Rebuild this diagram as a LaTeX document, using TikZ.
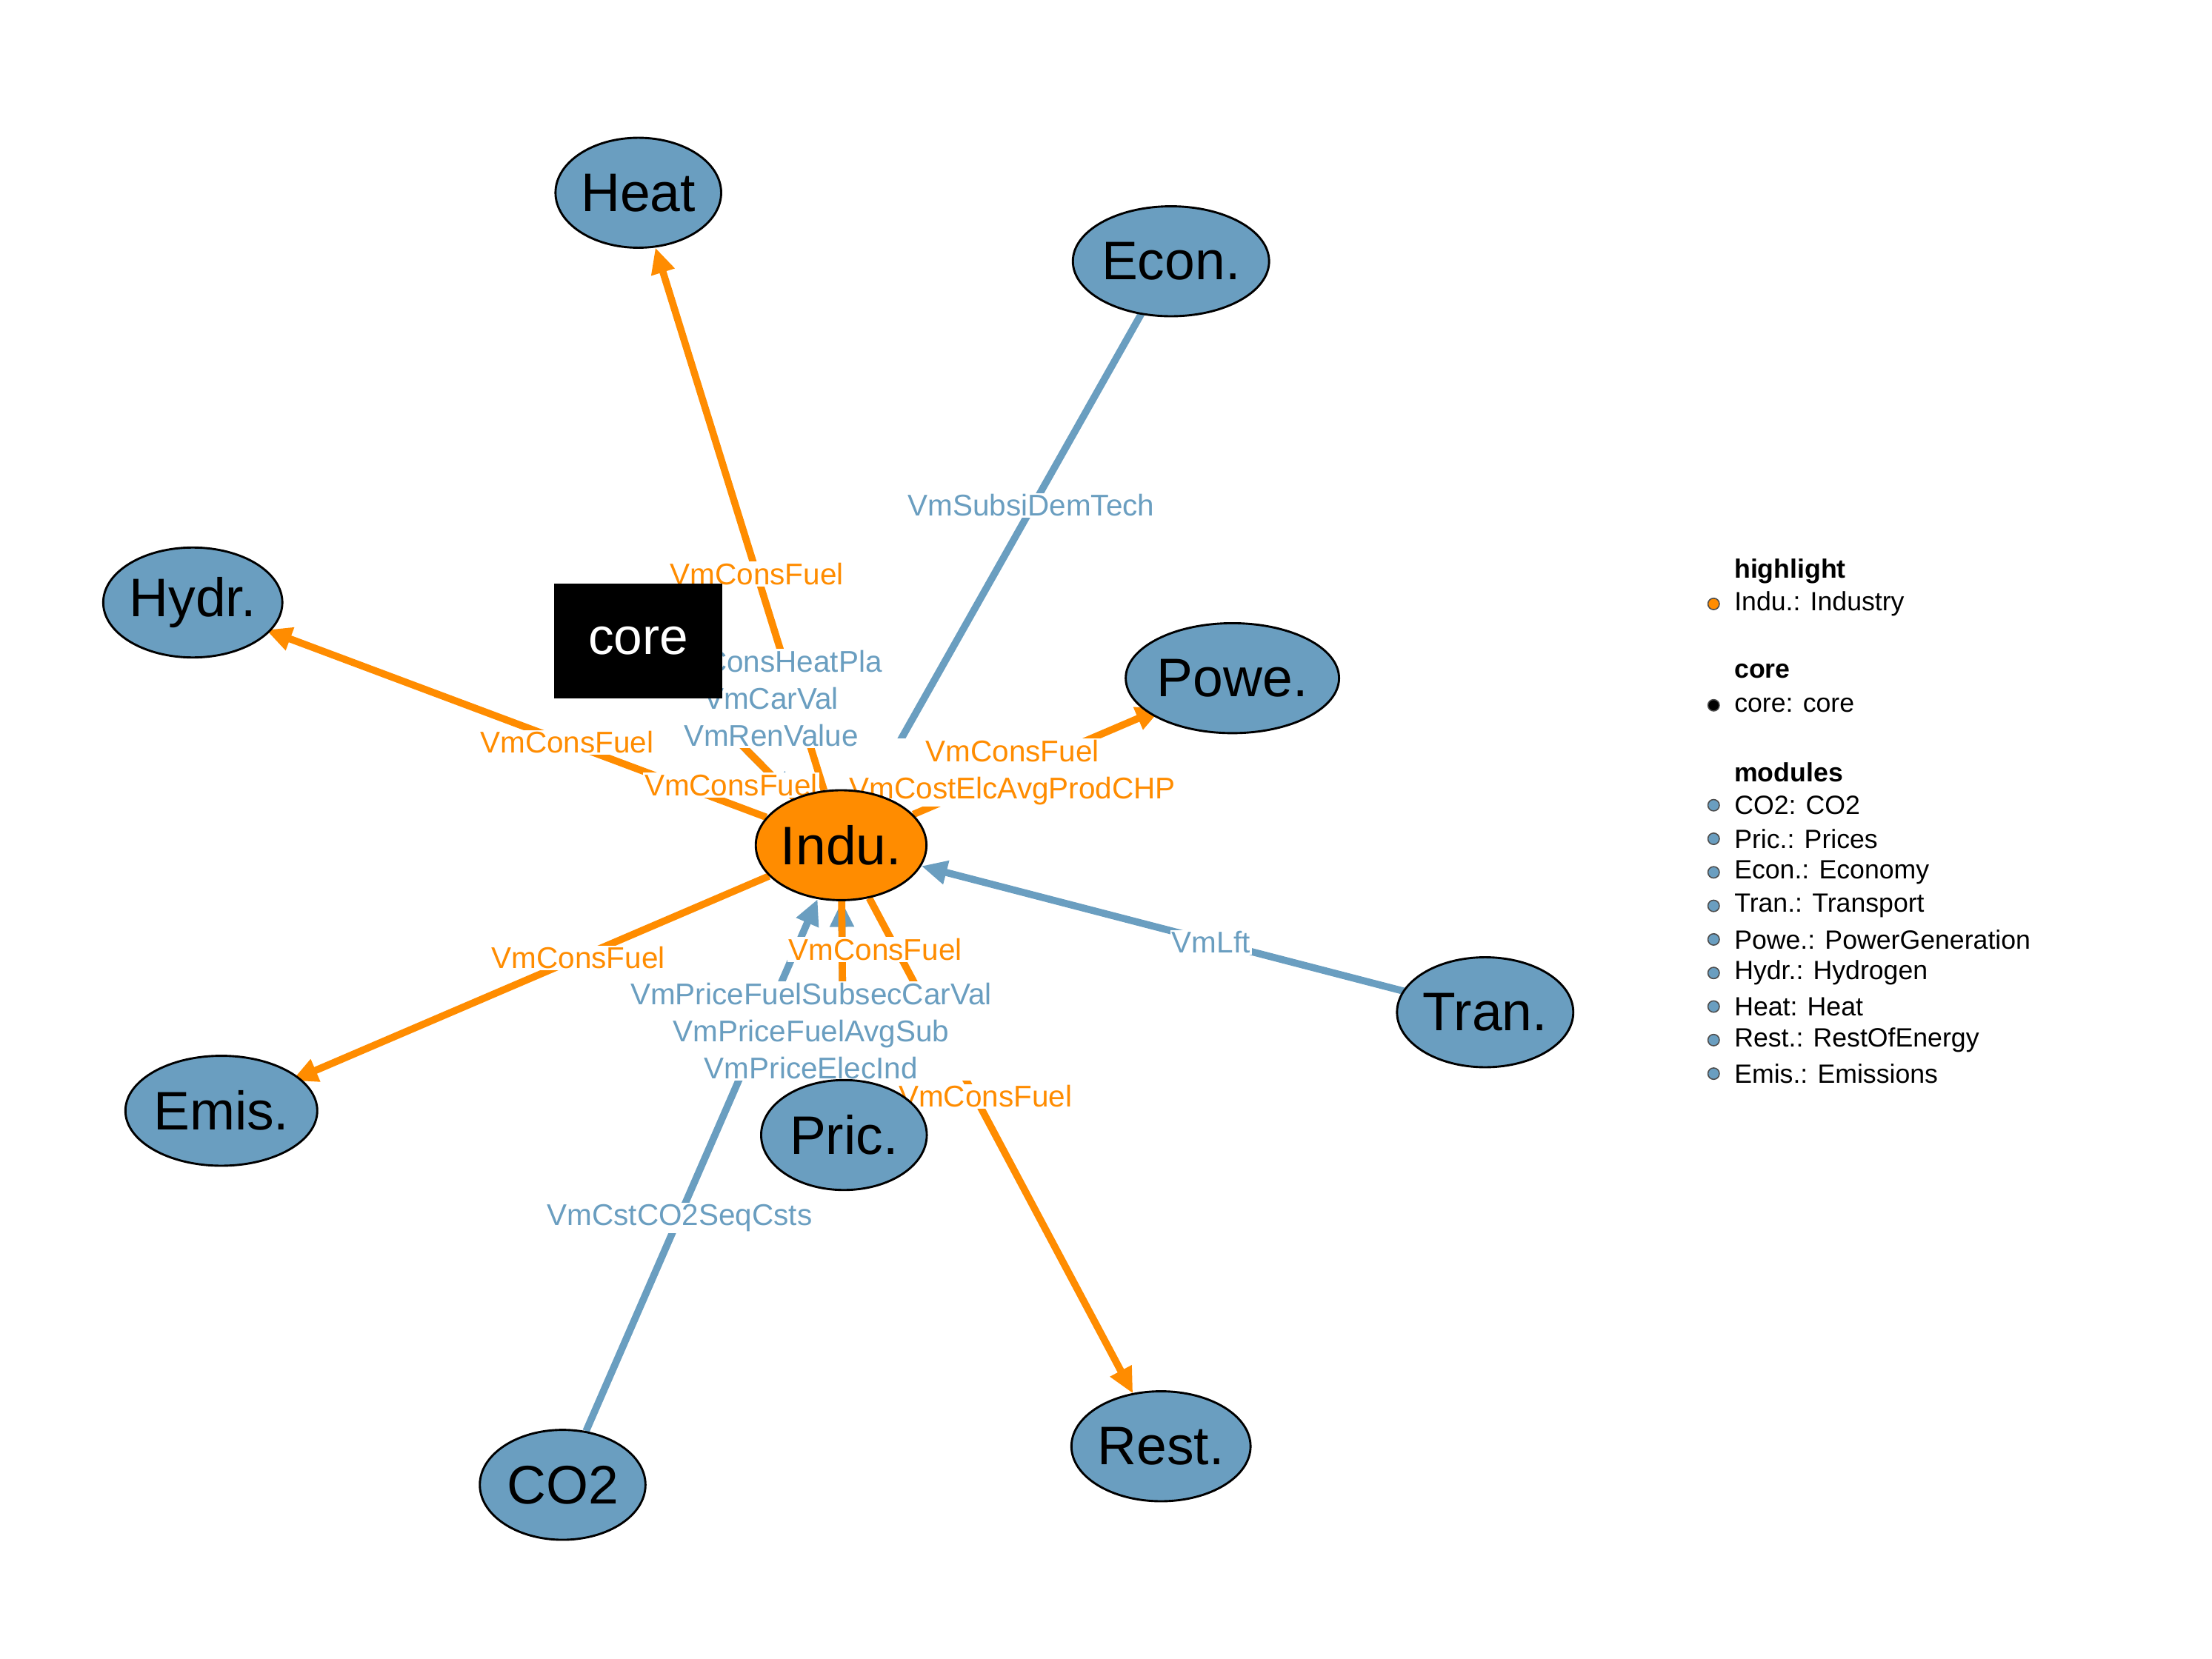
\documentclass[tikz,border=0pt]{standalone}
\usepackage{fontspec}
\setmainfont{Liberation Sans}
\usetikzlibrary{shapes.geometric,arrows.meta}
\definecolor{org}{RGB}{255,140,0}
\definecolor{blu}{RGB}{106,158,192}
\begin{document}
\begin{tikzpicture}[x=1pt,y=-1pt,
 mod/.style={ellipse,draw,line width=1.5pt,fill=blu,minimum width=116pt,minimum height=77pt,inner sep=0pt,font=\fontsize{38}{38}\selectfont},
 hl/.style={mod,fill=org},
 oe/.style={draw=org,line width=5pt,-{Triangle[length=18pt,width=16pt]}},
 be/.style={draw=blu,line width=5pt,-{Triangle[length=18pt,width=16pt]}},
 ol/.style={fill=white,text=org,inner sep=1pt,align=center,font=\fontsize{21}{26}\selectfont},
 bl/.style={fill=white,text=blu,inner sep=1pt,align=center,font=\fontsize{21}{26}\selectfont},
 lg/.style={anchor=west,font=\fontsize{18.5}{20}\selectfont},
 dot/.style={circle,draw=black!70,line width=0.8pt,inner sep=0pt,minimum size=8pt}]
\useasboundingbox (0,0) rectangle (1549,1162);
% node positions
\coordinate (pHeat) at (447,135);
\coordinate (pEcon) at (820,183);
\coordinate (pHydr) at (135,422);
\coordinate (pcore) at (447,449);
\coordinate (pPowe) at (863,475);
\coordinate (pIndu) at (589,592);
\coordinate (pTran) at (1040,709);
\coordinate (pEmis) at (155,778);
\coordinate (pPric) at (591,795);
\coordinate (pRest) at (813,1013);
\coordinate (pCO2) at (394,1040);
% nodes (invisible first for edge anchors)
\node[hl,draw=none,fill=none] (Indu) at (pIndu) {\phantom{Indu.}};
\node[mod,draw=none,fill=none] (Heat) at (pHeat) {};
\node[mod,draw=none,fill=none] (Econ) at (pEcon) {};
\node[mod,draw=none,fill=none] (Hydr) at (pHydr) {};
\node[mod,draw=none,fill=none] (Powe) at (pPowe) {};
\node[mod,draw=none,fill=none] (Tran) at (pTran) {};
\node[mod,draw=none,fill=none] (Emis) at (pEmis) {};
\node[mod,draw=none,fill=none] (Pric) at (pPric) {};
\node[mod,draw=none,fill=none] (Rest) at (pRest) {};
\node[mod,draw=none,fill=none] (CO2) at (pCO2) {};
\node[draw=none,minimum width=118pt,minimum height=80pt] (core) at (pcore) {};
% edges
\draw[oe] (Indu) -- (Heat);
\draw[be] (Econ) -- (Indu);
\draw[oe] (Indu) -- (Hydr);
\draw[oe] (Indu) -- (Powe);
\draw[be] (Tran) -- (Indu);
\draw[oe] (Indu) -- (Emis);
\draw[be] (Pric) -- (Indu);
\draw[oe] (Indu) -- (Pric);
\draw[oe] (Indu) -- (Rest);
\draw[be] (CO2) -- (Indu);
\draw[be] (core) -- (Indu);
\draw[oe] (Indu) -- (core);
% labels
\node[ol] (l1) at (530,402) {VmConsFuel};
\node[bl] (l2) at (722,354) {VmSubsiDemTech};
\node[ol] (l3) at (397,520) {VmConsFuel};
\node[ol] (l4) at (709,541) {VmConsFuel\\VmCostElcAvgProdCHP};
\node[bl] (l5) at (848,660) {VmLft};
\node[ol] (l6) at (405,671) {VmConsFuel};
\node[bl] (l7) at (568,722) {VmPriceFuelSubsecCarVal\\VmPriceFuelAvgSub\\VmPriceElecInd};
\node[ol] (l8) at (613,665) {VmConsFuel};
\node[ol] (l9) at (690,768) {VmConsFuel};
\node[bl] (l10) at (476,853) {VmCstCO2SeqCsts};
\node[bl] (l11) at (540,489) {VmConsHeatPla\\VmCarVal\\VmRenValue};
\node[ol] (l12) at (512,550) {VmConsFuel};
% visible nodes
\node[hl] at (pIndu) {Indu.};
\node[mod] at (pHeat) {Heat};
\node[mod] at (pEcon) {Econ.};
\node[mod] at (pHydr) {Hydr.};
\node[mod] at (pPowe) {Powe.};
\node[mod] at (pTran) {Tran.};
\node[mod] at (pEmis) {Emis.};
\node[mod] at (pPric) {Pric.};
\node[mod] at (pRest) {Rest.};
\node[mod] at (pCO2) {CO2};
\node[fill=black,text=white,minimum width=118pt,minimum height=80pt,font=\fontsize{36}{36}\selectfont] at (pcore) {core};
% legend
\node[lg] (g1) at (1211,400) {\bfseries highlight};
\node[dot,fill=org] (d1) at (1200,423) {}; \node[lg] (g2) at (1211,423) {Indu.: Industry};
\node[lg] (g3) at (1211,470) {\bfseries core};
\node[dot,fill=black] (d2) at (1200,494) {}; \node[lg] (g4) at (1211,494) {core: core};
\node[lg] (g5) at (1211,541) {\bfseries modules};
\foreach \t [count=\i] in {CO2: CO2,Pric.: Prices,Econ.: Economy,Tran.: Transport,Powe.: PowerGeneration,Hydr.: Hydrogen,Heat: Heat,Rest.: RestOfEnergy,Emis.: Emissions}{
 \node[dot,fill=blu] (m\i) at (1200,{564+23.5*(\i-1)}) {};
 \node[lg] (t\i) at (1211,{564+23.5*(\i-1)}) {\t};
}
\end{tikzpicture}
\end{document}
